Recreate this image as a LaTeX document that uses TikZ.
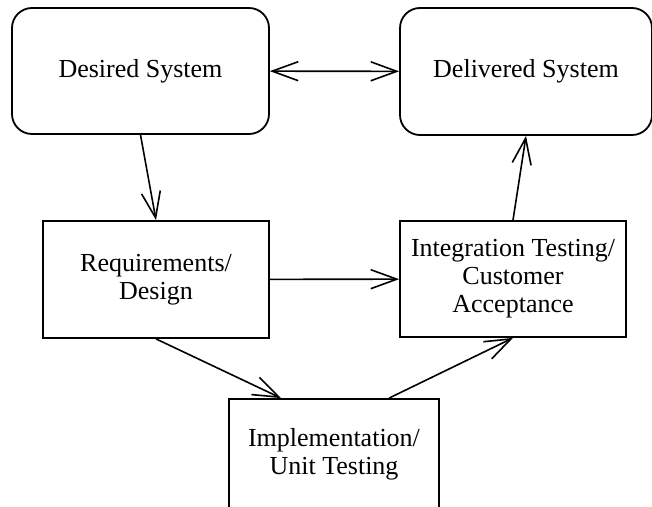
\documentclass[tikz,border=0pt]{standalone}
\usepackage{fontspec}
\setmainfont{Liberation Serif}
\usetikzlibrary{arrows.meta, positioning, calc}

\begin{document}
\begin{tikzpicture}[
  x=1pt, y=-1pt,
  box/.style={draw, line width=1.8pt, inner sep=0pt, align=center,
              font=\fontsize{26}{28}\selectfont},
  sysbox/.style={box, rounded corners=20pt},
  barb/.tip={Straight Barb[length=26pt, width=19pt, line width=1.6pt]},
  arr/.style={-barb, line width=1.6pt},
  dblarr/.style={barb-barb, line width=1.6pt}
]
  \useasboundingbox (0,0) rectangle (652,506);
  \clip (0,0) rectangle (652,506);
  % the two systems
  \node[sysbox, minimum width=257pt, minimum height=126pt] (des) at (140.5,71) {Desired System};
  \node[sysbox, minimum width=252pt, minimum height=127pt] (del) at (526,71.5) {Delivered System};
  % process steps
  \node[box, minimum width=226pt, minimum height=117pt] (req) at (156,279.5) {Requirements/\\Design};
  \node[box, minimum width=226pt, minimum height=116pt] (integ) at (513,279) {Integration Testing/\\Customer\\Acceptance};
  \node[box, minimum width=210pt, minimum height=111pt] (impl) at (334,454.5) {Implementation/\\Unit Testing};
  \draw[dblarr] (des) -- (del);
  \draw[arr] (des.south) -- (req.north);
  \draw[arr] (req) -- (integ);
  \draw[arr] (req.south) -- ($(impl.north west)!0.25!(impl.north east)$);
  \draw[arr] ($(impl.north west)!0.76!(impl.north east)$) -- (integ.south);
  \draw[arr] (integ.north) -- (del.south);
\end{tikzpicture}
\end{document}
